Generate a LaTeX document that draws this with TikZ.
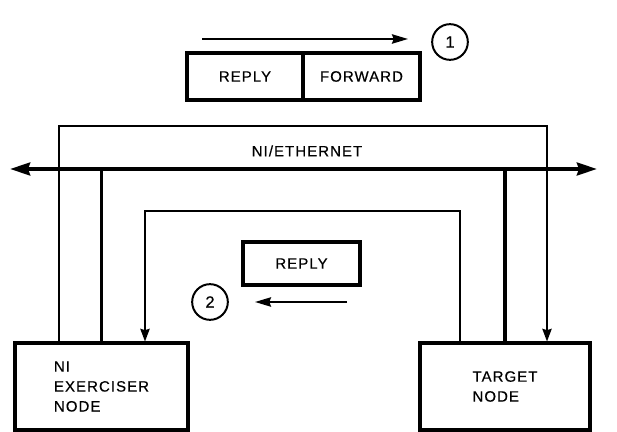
\documentclass[tikz,border=0pt]{standalone}
\usepackage{fontspec}
\setsansfont{Liberation Sans}[LetterSpace=7, FakeBold=0.5]
\usetikzlibrary{arrows.meta, positioning, calc}
\tikzset{
  every picture/.style={font=\sffamily\fontsize{12.8}{17}\selectfont, line width=1.4pt},
  unitbox/.style={draw, line width=2.6pt, align=left, inner sep=0pt, minimum height=2.61cm},
  pktbox/.style={draw, line width=2.6pt, inner sep=0pt},
  seqno/.style={circle, draw, line width=1.7pt, inner sep=0pt, minimum size=1.07cm, font=\sffamily\fontsize{14}{16}\selectfont},
  bus/.style={{Stealth[length=6mm, width=3.8mm, inset=0.6mm]}-{Stealth[length=6mm, width=3.8mm, inset=0.6mm]}, line width=3.3pt},
  tap/.style={line width=3.3pt},
  route/.style={line width=1.4pt},
  drop/.style={route, -{Stealth[length=3.8mm, width=2.8mm, inset=0.4mm]}},
  dirarrow/.style={-{Stealth[length=4.8mm, width=2.8mm, inset=0.5mm]}, line width=1.7pt},
}

\begin{document}
\begin{tikzpicture}[x=0.03cm, y=-0.03cm]
  \useasboundingbox (0,0) rectangle (617,432);
  % packet on its way out
  \node[pktbox, minimum width=3.48cm, minimum height=1.41cm] (pktreply) at (245,76.5) {REPLY};
  \node[pktbox, minimum width=3.51cm, minimum height=1.41cm] (pktfwd) at (361.5,76.5) {FORWARD};
  \node[seqno] (one) at (450,42) {1};
  \coordinate (outA) at (202,39);
  \coordinate (outB) at (408,39);
  \draw[dirarrow] (outA) -- (outB);
  % the two stations
  \node[unitbox, minimum width=5.19cm] (ni) at (101.5,386.5) {NI\\EXERCISER\\NODE};
  \node[unitbox, minimum width=5.1cm] (target) at (505,386.5) {TARGET\\NODE};
  % the cable
  \coordinate (busW) at (10,169);
  \coordinate (busE) at (597,169);
  \draw[bus] (busW) -- (busE);
  \node (netname) at (307,151) {NI/ETHERNET};
  \draw[tap] (ni.north) -- (ni.north |- busW);
  \draw[tap] (target.north) -- (target.north |- busE);
  % forward route
  \coordinate (hiL) at (59,126);
  \coordinate (hiR) at (547,126);
  \draw[drop] (ni.north -| hiL) -- (hiL) -- (hiR) -- (target.north -| hiR);
  % reply route
  \coordinate (loL) at (145,211);
  \coordinate (loR) at (460,211);
  \draw[drop] (target.north -| loR) -- (loR) -- (loL) -- (ni.north -| loL);
  % packet on its way back
  \node[pktbox, minimum width=3.51cm, minimum height=1.29cm] (backreply) at (301.5,263.5) {REPLY};
  \node[seqno] (two) at (210,302) {2};
  \coordinate (backA) at (347,302);
  \coordinate (backB) at (255,302);
  \draw[dirarrow] (backA) -- (backB);
\end{tikzpicture}
\end{document}
